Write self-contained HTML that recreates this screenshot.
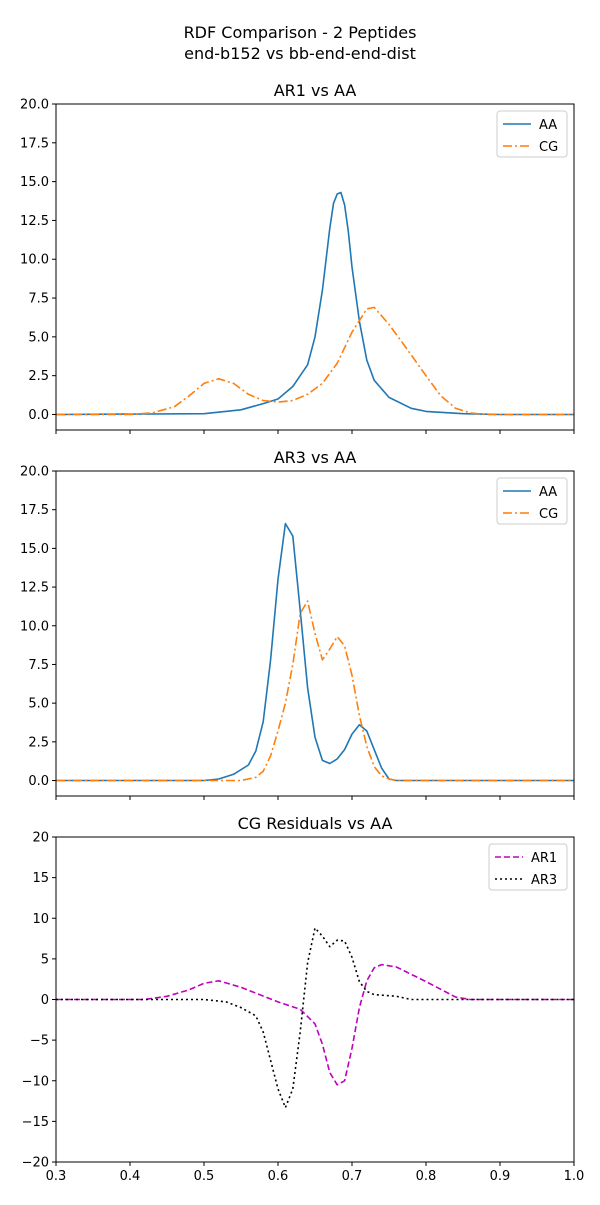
<!DOCTYPE html>
<html><head><meta charset="utf-8"><style>
body{margin:0;background:#fff;font-family:"Liberation Sans","DejaVu Sans",sans-serif}
svg text{font-family:"DejaVu Sans","Liberation Sans",sans-serif}
</style></head><body>
<svg id="c" width="600" height="1200" xmlns="http://www.w3.org/2000/svg">
<text x="300" y="38" text-anchor="middle" font-size="16">RDF Comparison - 2 Peptides</text>
<text x="300" y="59" text-anchor="middle" font-size="16">end-b152 vs bb-end-end-dist</text>
</svg>
<script>
const aa1X=[0.3,0.5,0.55,0.58,0.6,0.62,0.64,0.65,0.66,0.67,0.675,0.68,0.685,0.69,0.695,0.70,0.71,0.72,0.73,0.75,0.78,0.8,0.85,0.9,1.0];
const aa1Y=[0,0.05,0.3,0.7,1.0,1.8,3.2,5,8,12,13.6,14.2,14.3,13.5,11.8,9.5,6,3.5,2.2,1.1,0.4,0.2,0.05,0,0];
const cg1X=[0.3,0.4,0.43,0.46,0.48,0.5,0.52,0.54,0.56,0.58,0.6,0.62,0.64,0.66,0.68,0.70,0.72,0.73,0.75,0.77,0.8,0.82,0.84,0.86,0.88,1.0];
const cg1Y=[0,0,0.1,0.5,1.2,2.0,2.3,2.0,1.3,0.9,0.8,0.9,1.3,2.0,3.3,5.3,6.8,6.9,5.8,4.5,2.5,1.2,0.4,0.1,0,0];
const aa3X=[0.3,0.5,0.52,0.54,0.56,0.57,0.58,0.59,0.6,0.61,0.62,0.63,0.64,0.65,0.66,0.67,0.68,0.69,0.70,0.71,0.72,0.73,0.74,0.75,0.76,1.0];
const aa3Y=[0,0,0.1,0.4,1.0,1.9,3.8,7.8,13,16.6,15.8,11,6,2.8,1.3,1.1,1.4,2.0,3.0,3.6,3.2,2.0,0.8,0.1,0,0];
const cg3X=[0.3,0.55,0.57,0.58,0.59,0.6,0.61,0.62,0.63,0.64,0.65,0.66,0.67,0.68,0.69,0.70,0.71,0.72,0.73,0.74,0.75,0.76,1.0];
const cg3Y=[0,0,0.2,0.6,1.6,3.2,5,7.5,10.8,11.6,9.5,7.8,8.5,9.3,8.7,6.8,4.2,2.2,0.9,0.3,0.1,0,0];
const r1X=[0.3,0.42,0.45,0.48,0.5,0.52,0.55,0.6,0.63,0.65,0.66,0.67,0.68,0.69,0.70,0.71,0.72,0.73,0.74,0.76,0.8,0.84,0.86,1.0];
const r1Y=[0,0,0.4,1.2,2.0,2.3,1.5,-0.3,-1.2,-3,-5.5,-9,-10.5,-10,-6,-1,2.3,3.9,4.3,4.0,2.2,0.3,0,0];
const r3X=[0.3,0.5,0.53,0.55,0.57,0.58,0.59,0.6,0.61,0.62,0.63,0.64,0.65,0.66,0.67,0.68,0.69,0.70,0.71,0.72,0.73,0.76,0.78,1.0];
const r3Y=[0,0,-0.3,-1.0,-2.0,-4,-7.5,-11,-13.3,-11,-4,4.5,8.8,7.8,6.5,7.3,7.2,5.2,2.2,1.0,0.6,0.4,0,0];
const ticks1=[0,2.5,5,7.5,10,12.5,15,17.5,20];
const ticks3=[-20,-15,-10,-5,0,5,10,15,20];
const xticks=[0.3,0.4,0.5,0.6,0.7,0.8,0.9,1.0];

const svg=document.getElementById('c');const NS='http://www.w3.org/2000/svg';
function mk(t,a,p){const e=document.createElementNS(NS,t);for(const k in a)e.setAttribute(k,a[k]);(p||svg).appendChild(e);return e;}
const L=56,R=574;const sx=v=>L+(v-0.3)/0.7*(R-L);
function panel(top,bot,ymin,ymax,yt,fmt,title,series,legend,xlabels,name){
  const g=mk('g',{});
  
  
  const sy=v=>bot-(v-ymin)/(ymax-ymin)*(bot-top);
  const tt=mk('text',{x:(L+R)/2,y:top-8,'text-anchor':'middle','font-size':16},g);tt.textContent=title;
  
  
  yt.forEach(v=>{const y=sy(v);mk('line',{x1:L-4,x2:L,y1:y,y2:y,stroke:'#000'},g);
    const t=mk('text',{x:L-7,y:y+4.5,'text-anchor':'end','font-size':13},g);t.textContent=fmt(v);
    
    });
  xticks.forEach(v=>{const x=sx(v);mk('line',{x1:x,x2:x,y1:bot,y2:bot+4,stroke:'#000'},g);
    if(xlabels){const t=mk('text',{x:x,y:bot+18,'text-anchor':'middle','font-size':13},g);t.textContent=v.toFixed(1);
    
    }});
  const cp='cp'+top;const cl=mk('clipPath',{id:cp},g);mk('rect',{x:L,y:top,width:R-L,height:bot-top},cl);
  series.forEach(s=>{const d=s.x.map((v,i)=>(i?'L':'M')+sx(v).toFixed(1)+','+sy(s.y[i]).toFixed(1)).join('');
    const p=mk('path',{d:d,fill:'none',stroke:s.c,'stroke-width':1.6,'stroke-dasharray':s.dash||'','clip-path':'url(#'+cp+')','stroke-linejoin':'round'},g);
    
    });
  mk('rect',{x:L,y:top,width:R-L,height:bot-top,fill:'none',stroke:'#000','stroke-width':1},g);
  const lw=legend.w,lx=R-7-lw,ly=top+7;
  const lg=mk('g',{},g);
  
  
  mk('rect',{x:lx,y:ly,width:lw,height:46,rx:3,fill:'#fff',stroke:'#ccc'},lg);
  series.forEach((s,i)=>{const yy=ly+13+i*22;mk('line',{x1:lx+6,x2:lx+34,y1:yy,y2:yy,stroke:s.c,'stroke-width':1.6,'stroke-dasharray':s.dash||''},lg);
    const t=mk('text',{x:lx+42,y:yy+5,'font-size':13},lg);t.textContent=s.n;
    
    });
}
const f1=v=>v.toFixed(1),f3=v=>String(v).replace('-','\u2212');
panel(104,430,-1,20,ticks1,f1,'AR1 vs AA',[{x:aa1X,y:aa1Y,c:'#1f77b4',n:'AA'},{x:cg1X,y:cg1Y,c:'#ff7f0e',n:'CG',dash:'9,3,2,3'}],{w:70},false,'panel-ar1');
panel(471,796,-1,20,ticks1,f1,'AR3 vs AA',[{x:aa3X,y:aa3Y,c:'#1f77b4',n:'AA'},{x:cg3X,y:cg3Y,c:'#ff7f0e',n:'CG',dash:'9,3,2,3'}],{w:70},false,'panel-ar3');
panel(837,1162,-20,20,ticks3,f3,'CG Residuals vs AA',[{x:r1X,y:r1Y,c:'#bf00bf',n:'AR1',dash:'6,3'},{x:r3X,y:r3Y,c:'#000',n:'AR3',dash:'2,3'}],{w:78},true,'panel-residuals');
</script>
</body></html>
